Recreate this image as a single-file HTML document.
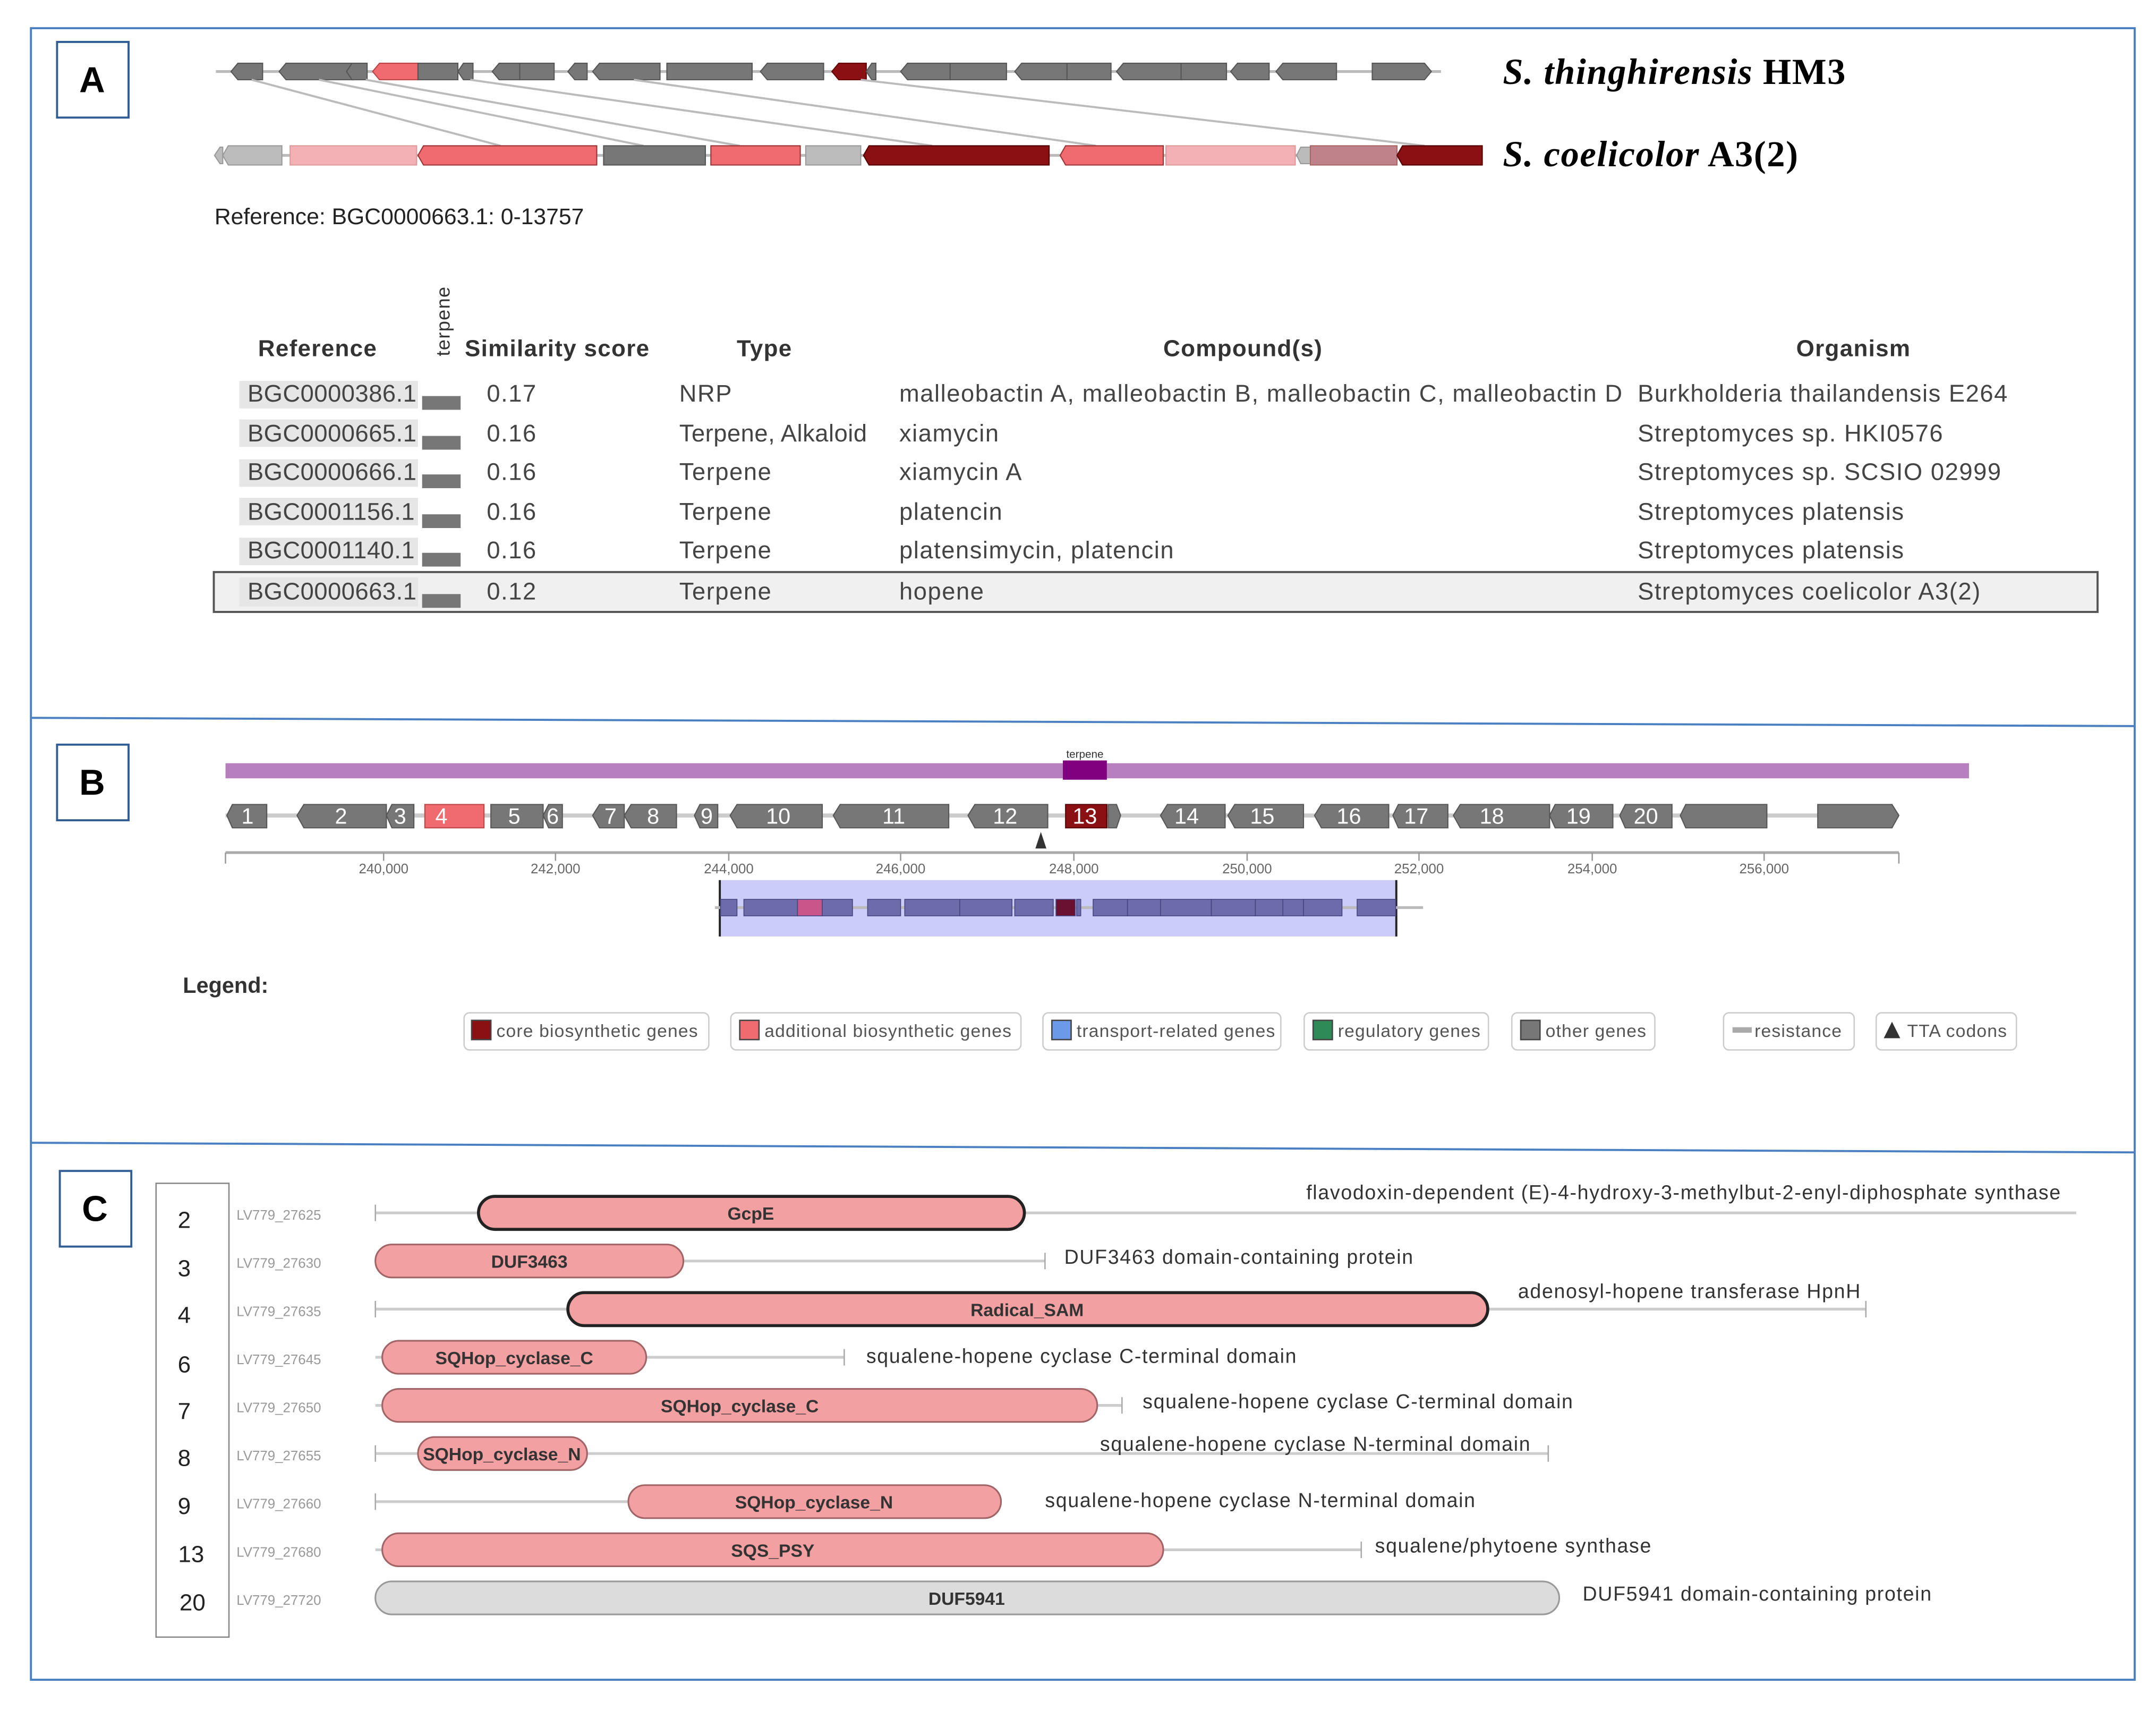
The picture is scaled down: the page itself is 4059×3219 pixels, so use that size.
<!DOCTYPE html>
<html><head><meta charset="utf-8"><style>
html,body{margin:0;padding:0;background:#fff;}
svg{display:block;}
text{font-family:"Liberation Sans",sans-serif;}
</style></head><body>
<svg width="4059" height="3219" viewBox="0 0 1568 1243.5" xmlns="http://www.w3.org/2000/svg">
<rect x="0" y="0" width="1568" height="1244" fill="#fff"/>
<rect x="22.5" y="20.5" width="1530" height="1201" fill="none" stroke="#4a7fc1" stroke-width="1.5"/>
<line x1="22" y1="522" x2="1552" y2="528" stroke="#4a7fc1" stroke-width="1.5"/>
<line x1="22" y1="831" x2="1552" y2="838" stroke="#4a7fc1" stroke-width="1.5"/>
<rect x="41.5" y="30.5" width="52" height="55" fill="#fff" stroke="#2f5d94" stroke-width="1.5"/>
<text x="67" y="67" font-size="26" font-weight="bold" text-anchor="middle">A</text>
<rect x="41.5" y="541.5" width="52" height="55" fill="#fff" stroke="#2f5d94" stroke-width="1.5"/>
<text x="67" y="578" font-size="26" font-weight="bold" text-anchor="middle">B</text>
<rect x="43.5" y="851.5" width="52" height="55" fill="#fff" stroke="#2f5d94" stroke-width="1.5"/>
<text x="69" y="888" font-size="26" font-weight="bold" text-anchor="middle">C</text>

<line x1="157" y1="52" x2="1048" y2="52" stroke="#bbb" stroke-width="2"/>
<g fill="#777" stroke="#555" stroke-width="0.8">
<polygon points="168,52 173,46 191,46 191,58 173,58"/>
<polygon points="203,52 208,46 257,46 257,58 208,58"/>
<polygon points="252,52 256,46 267,46 267,58 256,58"/>
<polygon points="271,52 276,46 304,46 304,58 276,58" fill="#ef6b70" stroke="#b44"/>
<polygon points="304,46 333,46 333,58 304,58"/>
<polygon points="333,52 337,46 344,46 344,58 337,58"/>
<polygon points="358,52 363,46 378,46 378,58 363,58"/>
<polygon points="378,46 403,46 403,58 378,58"/>
<polygon points="413,52 418,46 427,46 427,58 418,58"/>
<polygon points="431,52 436,46 480,46 480,58 436,58"/>
<polygon points="485,46 547,46 547,58 485,58"/>
<polygon points="553,52 558,46 599,46 599,58 558,58"/>
<polygon points="605,52 610,46 630,46 630,58 610,58" fill="#8b1014" stroke="#600"/>
<polygon points="630,52 634,46 637,46 637,58 634,58"/>
<polygon points="655,52 660,46 691,46 691,58 660,58"/>
<polygon points="691,46 732,46 732,58 691,58"/>
<polygon points="738,52 743,46 776,46 776,58 743,58"/>
<polygon points="776,46 808,46 808,58 776,58"/>
<polygon points="812,52 817,46 859,46 859,58 817,58"/>
<polygon points="859,46 892,46 892,58 859,58"/>
<polygon points="895,52 900,46 923,46 923,58 900,58"/>
<polygon points="928,52 933,46 972,46 972,58 933,58"/>
<polygon points="998,46 1036,46 1041,52 1036,58 998,58"/>
</g>
<g stroke="#bbb" stroke-width="1.5">
<line x1="183" y1="58" x2="364" y2="106"/>
<line x1="232" y1="58" x2="468" y2="106"/>
<line x1="266" y1="58" x2="538" y2="106"/>
<line x1="342" y1="58" x2="678" y2="106"/>
<line x1="461" y1="58" x2="797" y2="106"/>
<line x1="626" y1="58" x2="1036" y2="106"/>
</g>
<line x1="156" y1="113" x2="1078" y2="113" stroke="#bbb" stroke-width="2"/>
<g stroke-width="0.8">
<polygon points="156,113 160,107 162,107 162,119 160,119" fill="#bbb" stroke="#999"/>
<polygon points="162,113 166,106 205,106 205,120 166,120" fill="#bcbcbc" stroke="#999"/>
<polygon points="211,106 303,106 303,120 211,120" fill="#f4b1b5" stroke="#d99"/>
<polygon points="304,113 308,106 434,106 434,120 308,120" fill="#ef6b70" stroke="#933"/>
<polygon points="439,106 513,106 513,120 439,120" fill="#777" stroke="#555"/>
<polygon points="517,106 582,106 582,120 517,120" fill="#ef6b70" stroke="#933"/>
<polygon points="586,106 626,106 626,120 586,120" fill="#bcbcbc" stroke="#999"/>
<polygon points="628,113 632,106 763,106 763,120 632,120" fill="#8b1014" stroke="#500"/>
<polygon points="771,113 775,106 846,106 846,120 775,120" fill="#ef6b70" stroke="#933"/>
<polygon points="848,106 942,106 942,120 848,120" fill="#f4b1b5" stroke="#d99"/>
<polygon points="943,113 946,107 953,107 953,119 946,119" fill="#bbb" stroke="#999"/>
<polygon points="953,106 1016,106 1016,120 953,120" fill="#c0828a" stroke="#a66"/>
<polygon points="1016,113 1020,106 1078,106 1078,120 1020,120" fill="#8b1014" stroke="#500"/>
</g>
<text x="1093" y="61" font-size="26.5" font-weight="bold" letter-spacing="0.6" style="font-family:'Liberation Serif',serif"><tspan font-style="italic">S. thinghirensis</tspan> HM3</text>
<text x="1093" y="121" font-size="26.5" font-weight="bold" letter-spacing="0.6" style="font-family:'Liberation Serif',serif"><tspan font-style="italic">S. coelicolor</tspan> A3(2)</text>
<text x="156" y="163" font-size="16.5" fill="#222">Reference: BGC0000663.1: 0-13757</text>

<g font-size="17" font-weight="bold" fill="#333" letter-spacing="0.5">
<text x="231" y="259" text-anchor="middle">Reference</text>
<text x="338" y="259">Similarity score</text>
<text x="556" y="259" text-anchor="middle">Type</text>
<text x="904" y="259" text-anchor="middle">Compound(s)</text>
<text x="1348" y="259" text-anchor="middle">Organism</text>
</g>
<text transform="translate(327,259) rotate(-90)" font-size="14" fill="#333" letter-spacing="0.5">terpene</text>
<rect x="155.5" y="416" width="1370" height="29" fill="#f0f0f0" stroke="#555" stroke-width="1.5"/>
<g fill="#e6e6e6">
<rect x="174" y="277" width="130" height="20"/><rect x="174" y="305" width="130" height="20"/><rect x="174" y="334" width="130" height="20"/><rect x="174" y="362" width="130" height="20"/><rect x="174" y="391" width="130" height="20"/><rect x="174" y="420" width="130" height="21"/>
</g>
<g fill="#777"><rect x="307" y="288" width="28" height="10"/><rect x="307" y="317" width="28" height="10"/><rect x="307" y="345" width="28" height="10"/><rect x="307" y="374" width="28" height="10"/><rect x="307" y="402" width="28" height="10"/><rect x="307" y="432" width="28" height="10"/></g>
<g font-size="17.5" fill="#444" letter-spacing="0.6">
<text x="180" y="292" letter-spacing="0.2">BGC0000386.1</text><text x="354" y="292">0.17</text><text x="494" y="292">NRP</text><text x="654" y="292">malleobactin A, malleobactin B, malleobactin C, malleobactin D</text><text x="1191" y="292">Burkholderia thailandensis E264</text>
<text x="180" y="321" letter-spacing="0.2">BGC0000665.1</text><text x="354" y="321">0.16</text><text x="494" y="321" letter-spacing="0.2">Terpene, Alkaloid</text><text x="654" y="321">xiamycin</text><text x="1191" y="321">Streptomyces sp. HKI0576</text>
<text x="180" y="349" letter-spacing="0.2">BGC0000666.1</text><text x="354" y="349">0.16</text><text x="494" y="349">Terpene</text><text x="654" y="349">xiamycin A</text><text x="1191" y="349">Streptomyces sp. SCSIO 02999</text>
<text x="180" y="378" letter-spacing="0.2">BGC0001156.1</text><text x="354" y="378">0.16</text><text x="494" y="378">Terpene</text><text x="654" y="378">platencin</text><text x="1191" y="378">Streptomyces platensis</text>
<text x="180" y="406" letter-spacing="0.2">BGC0001140.1</text><text x="354" y="406">0.16</text><text x="494" y="406">Terpene</text><text x="654" y="406">platensimycin, platencin</text><text x="1191" y="406">Streptomyces platensis</text>
<text x="180" y="436" letter-spacing="0.2">BGC0000663.1</text><text x="354" y="436">0.12</text><text x="494" y="436">Terpene</text><text x="654" y="436">hopene</text><text x="1191" y="436">Streptomyces coelicolor A3(2)</text>
</g>

<rect x="164" y="555" width="1268" height="11" fill="#b77fbe"/>
<rect x="773" y="553" width="32" height="14" fill="#800080"/>
<text x="789" y="551" font-size="8" text-anchor="middle" fill="#333">terpene</text>
<line x1="164" y1="593" x2="1381" y2="593" stroke="#ccc" stroke-width="3"/>
<g fill="#777" stroke="#555" stroke-width="0.8">
<polygon points="165,593 169,585 194,585 194,602 169,602"/>
<polygon points="216,593 221,585 281,585 281,602 221,602"/>
<polygon points="281,593 285,585 301,585 301,602 285,602"/>
<polygon points="309,585 352,585 352,602 309,602" fill="#ef6b70" stroke="#b44"/>
<polygon points="357,585 395,585 395,602 357,602"/>
<polygon points="395,593 399,585 409,585 409,602 399,602"/>
<polygon points="431,593 436,585 454,585 454,602 436,602"/>
<polygon points="454,593 459,585 492,585 492,602 459,602"/>
<polygon points="505,593 509,585 522,585 522,602 509,602"/>
<polygon points="531,593 536,585 598,585 598,602 536,602"/>
<polygon points="606,593 611,585 690,585 690,602 611,602"/>
<polygon points="704,593 709,585 762,585 762,602 709,602"/>
<polygon points="775,585 805,585 805,602 775,602" fill="#8b1014" stroke="#500"/>
<polygon points="806,585 812,585 815,593 812,602 806,602"/>
<polygon points="844,593 849,585 891,585 891,602 849,602"/>
<polygon points="893,593 898,585 948,585 948,602 898,602"/>
<polygon points="956,593 961,585 1010,585 1010,602 961,602"/>
<polygon points="1013,593 1017,585 1053,585 1053,602 1017,602"/>
<polygon points="1057,593 1062,585 1127,585 1127,602 1062,602"/>
<polygon points="1127,593 1131,585 1173,585 1173,602 1131,602"/>
<polygon points="1178,593 1182,585 1216,585 1216,602 1182,602"/>
<polygon points="1222,593 1226,585 1285,585 1285,602 1226,602"/>
<polygon points="1322,585 1376,585 1381,593 1376,602 1322,602"/>
</g>
<g font-size="16" fill="#fff" text-anchor="middle">
<text x="180" y="599">1</text><text x="248" y="599">2</text><text x="291" y="599">3</text><text x="321" y="599">4</text><text x="374" y="599">5</text><text x="402" y="599">6</text><text x="444" y="599">7</text><text x="475" y="599">8</text><text x="514" y="599">9</text><text x="566" y="599">10</text><text x="650" y="599">11</text><text x="731" y="599">12</text><text x="789" y="599">13</text><text x="863" y="599">14</text><text x="918" y="599">15</text><text x="981" y="599">16</text><text x="1030" y="599">17</text><text x="1085" y="599">18</text><text x="1148" y="599">19</text><text x="1197" y="599">20</text>
</g>
<polygon points="753,617 757,605 761,617" fill="#333"/>
<line x1="164" y1="620" x2="1381" y2="620" stroke="#aaa" stroke-width="2"/>
<g stroke="#999" stroke-width="1">
<line x1="164" y1="620" x2="164" y2="628"/><line x1="279" y1="620" x2="279" y2="626"/><line x1="404" y1="620" x2="404" y2="626"/><line x1="530" y1="620" x2="530" y2="626"/><line x1="655" y1="620" x2="655" y2="626"/><line x1="781" y1="620" x2="781" y2="626"/><line x1="907" y1="620" x2="907" y2="626"/><line x1="1032" y1="620" x2="1032" y2="626"/><line x1="1158" y1="620" x2="1158" y2="626"/><line x1="1283" y1="620" x2="1283" y2="626"/><line x1="1381" y1="620" x2="1381" y2="628"/>
</g>
<g font-size="10" fill="#666" text-anchor="middle">
<text x="279" y="635">240,000</text><text x="404" y="635">242,000</text><text x="530" y="635">244,000</text><text x="655" y="635">246,000</text><text x="781" y="635">248,000</text><text x="907" y="635">250,000</text><text x="1032" y="635">252,000</text><text x="1158" y="635">254,000</text><text x="1283" y="635">256,000</text>
</g>
<rect x="523" y="640" width="493" height="41" fill="#ccccf8"/>
<line x1="523.5" y1="640" x2="523.5" y2="681" stroke="#222" stroke-width="1.5"/>
<line x1="1015.5" y1="640" x2="1015.5" y2="681" stroke="#222" stroke-width="1.5"/>
<line x1="520" y1="660" x2="1035" y2="660" stroke="#bbb" stroke-width="2"/>
<g fill="#6c6cab" stroke="#444480" stroke-width="0.6">
<rect x="524" y="654" width="12" height="12"/><rect x="541" y="654" width="39" height="12"/><rect x="580" y="654" width="18" height="12" fill="#c9558a"/><rect x="598" y="654" width="22" height="12"/><rect x="631" y="654" width="24" height="12"/><rect x="658" y="654" width="40" height="12"/><rect x="698" y="654" width="38" height="12"/><rect x="738" y="654" width="28" height="12"/><rect x="768" y="654" width="14" height="12" fill="#6a1030"/><rect x="783" y="654" width="3" height="12"/><rect x="795" y="654" width="25" height="12"/><rect x="820" y="654" width="24" height="12"/><rect x="844" y="654" width="37" height="12"/><rect x="881" y="654" width="32" height="12"/><rect x="913" y="654" width="20" height="12"/><rect x="933" y="654" width="15" height="12"/><rect x="948" y="654" width="28" height="12"/><rect x="987" y="654" width="28" height="12"/>
</g>
<text x="133" y="722" font-size="16" font-weight="bold" fill="#333">Legend:</text>
<g font-size="13" fill="#555">
<g fill="#fff" stroke="#ccc" stroke-width="1"><rect x="337.5" y="736.5" width="178" height="27" rx="4"/><rect x="531.5" y="736.5" width="211" height="27" rx="4"/><rect x="758.5" y="736.5" width="173" height="27" rx="4"/><rect x="948.5" y="736.5" width="134" height="27" rx="4"/><rect x="1099.5" y="736.5" width="104" height="27" rx="4"/><rect x="1253.5" y="736.5" width="95" height="27" rx="4"/><rect x="1364.5" y="736.5" width="102" height="27" rx="4"/></g>
<g letter-spacing="0.45">
<rect x="343" y="742" width="14" height="14" fill="#8b1014" stroke="#444"/><text x="361" y="754">core biosynthetic genes</text>
<rect x="538" y="742" width="14" height="14" fill="#ef6b70" stroke="#444"/><text x="556" y="754">additional biosynthetic genes</text>
<rect x="765" y="742" width="14" height="14" fill="#6a9ae8" stroke="#444"/><text x="783" y="754">transport-related genes</text>
<rect x="955" y="742" width="14" height="14" fill="#2e8b57" stroke="#444"/><text x="973" y="754">regulatory genes</text>
<rect x="1106" y="742" width="14" height="14" fill="#777" stroke="#444"/><text x="1124" y="754">other genes</text>
<rect x="1260" y="747" width="14" height="4" fill="#aaa"/><text x="1276" y="754">resistance</text>
<polygon points="1370,755 1376,743 1382,755" fill="#333"/><text x="1387" y="754">TTA codons</text>
</g>
</g>

<rect x="113.5" y="860.5" width="53" height="330" fill="#fff" stroke="#888" stroke-width="1"/>
<g font-size="17" fill="#222" text-anchor="middle">
<text x="134" y="893">2</text><text x="134" y="928">3</text><text x="134" y="962">4</text><text x="134" y="998">6</text><text x="134" y="1032">7</text><text x="134" y="1066">8</text><text x="134" y="1101">9</text><text x="139" y="1136">13</text><text x="140" y="1171">20</text>
</g>
<g font-size="10" fill="#999" style="font-family:'Liberation Serif',serif">
<text x="172" y="887">LV779_27625</text><text x="172" y="922">LV779_27630</text><text x="172" y="957">LV779_27635</text><text x="172" y="992">LV779_27645</text><text x="172" y="1027">LV779_27650</text><text x="172" y="1062">LV779_27655</text><text x="172" y="1097">LV779_27660</text><text x="172" y="1132">LV779_27680</text><text x="172" y="1167">LV779_27720</text>
</g>
<g stroke="#ccc" stroke-width="2">
<line x1="273" y1="882" x2="1510" y2="882"/>
<line x1="273" y1="917" x2="760" y2="917"/>
<line x1="273" y1="952" x2="1357" y2="952"/>
<line x1="273" y1="987" x2="614" y2="987"/>
<line x1="273" y1="1022" x2="816" y2="1022"/>
<line x1="273" y1="1057" x2="1126" y2="1057"/>
<line x1="273" y1="1092" x2="728" y2="1092"/>
<line x1="273" y1="1127" x2="990" y2="1127"/>
<line x1="273" y1="1162" x2="1134" y2="1162"/>
</g>
<g stroke="#aaa" stroke-width="1">
<line x1="273" y1="876" x2="273" y2="888"/><line x1="760" y1="911" x2="760" y2="923"/><line x1="273" y1="946" x2="273" y2="958"/><line x1="1357" y1="946" x2="1357" y2="958"/><line x1="614" y1="981" x2="614" y2="993"/><line x1="816" y1="1016" x2="816" y2="1028"/><line x1="273" y1="1051" x2="273" y2="1063"/><line x1="1126" y1="1051" x2="1126" y2="1063"/><line x1="273" y1="1086" x2="273" y2="1098"/><line x1="990" y1="1121" x2="990" y2="1133"/>
</g>
<g fill="#f2a0a2" stroke="#a06466" stroke-width="1.2">
<rect x="348" y="870" width="397" height="24" rx="12" stroke="#222" stroke-width="2.2"/>
<rect x="273" y="905" width="224" height="24" rx="12"/>
<rect x="413" y="940" width="669" height="24" rx="12" stroke="#222" stroke-width="2.2"/>
<rect x="278" y="975" width="192" height="24" rx="12"/>
<rect x="278" y="1010" width="520" height="24" rx="12"/>
<rect x="304" y="1045" width="123" height="24" rx="12"/>
<rect x="457" y="1080" width="271" height="24" rx="12"/>
<rect x="278" y="1115" width="568" height="24" rx="12"/>
<rect x="273" y="1150" width="861" height="24" rx="12" fill="#dcdcdc" stroke="#999"/>
</g>
<g font-size="13" font-weight="bold" fill="#333" text-anchor="middle">
<text x="546" y="887">GcpE</text><text x="385" y="922">DUF3463</text><text x="747" y="957">Radical_SAM</text><text x="374" y="992">SQHop_cyclase_C</text><text x="538" y="1027">SQHop_cyclase_C</text><text x="365" y="1062">SQHop_cyclase_N</text><text x="592" y="1097">SQHop_cyclase_N</text><text x="562" y="1132">SQS_PSY</text><text x="703" y="1167">DUF5941</text>
</g>
<g font-size="14.5" fill="#333" letter-spacing="0.65">
<text x="950" y="872">flavodoxin-dependent (E)-4-hydroxy-3-methylbut-2-enyl-diphosphate synthase</text>
<text x="774" y="919">DUF3463 domain-containing protein</text>
<text x="1104" y="944">adenosyl-hopene transferase HpnH</text>
<text x="630" y="991">squalene-hopene cyclase C-terminal domain</text>
<text x="831" y="1024">squalene-hopene cyclase C-terminal domain</text>
<text x="800" y="1055">squalene-hopene cyclase N-terminal domain</text>
<text x="760" y="1096">squalene-hopene cyclase N-terminal domain</text>
<text x="1000" y="1129">squalene/phytoene synthase</text>
<text x="1151" y="1164">DUF5941 domain-containing protein</text>
</g>
</svg>
</body></html>
